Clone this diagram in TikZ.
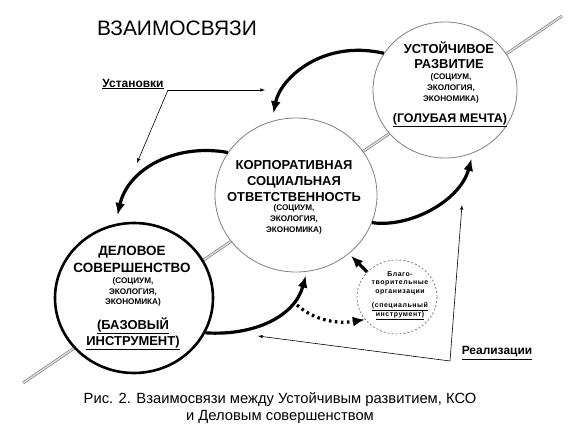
\documentclass[tikz,border=0pt]{standalone}
\usepackage{fontspec}
\setmainfont{Liberation Sans}
\usetikzlibrary{shapes.geometric,arrows.meta}
\begin{document}
\begin{tikzpicture}[>=latex,line join=bevel,
  flow/.style={black,line width=3.2bp,-{Latex[length=12bp,width=10bp]}},
  note/.style={black,line width=0.6bp,->},
  ring/.style={ellipse,draw=gray,line width=0.8bp,fill=white,inner sep=0pt},
  head/.style={font=\bfseries\fontsize{13}{16.5}\selectfont,align=center,inner sep=0pt},
  sub/.style={font=\bfseries\fontsize{8.2}{10.8}\selectfont,align=center,inner sep=0pt},
  tiny/.style={font=\bfseries\fontsize{7}{8.6}\selectfont\addfontfeatures{LetterSpace=8},align=center,inner sep=0pt},
  tag/.style={font=\bfseries\fontsize{12}{14}\selectfont,inner sep=0pt}]
\useasboundingbox (0bp,0bp) rectangle (580bp,431bp);
%%
\coordinate (axis_0) at (23bp,48bp);
\coordinate (axis_1) at (562bp,415bp);
\draw [gray,line width=0.7bp,double=gray!25,double distance=1.4bp] (axis_0) -- (axis_1);
%
\node (node_sd) at (445bp,341bp) [ring,minimum width=144bp,minimum height=136bp] {};
  \node (node_csr) at (296bp,236bp) [ring,minimum width=162bp,minimum height=154bp] {};
  \node (node_be) at (134bp,133bp) [ring,draw=black,line width=2.6bp,minimum width=158bp,minimum height=150bp] {};
  \node (node_char) at (397bp,134bp) [ring,dashed,dash pattern=on 2bp off 2bp,minimum width=80bp,minimum height=74bp] {};
%
\node (node_sd_head) at (449bp,375.5bp) [head,font=\bfseries\fontsize{13}{15}\selectfont] {УСТОЙЧИВОЕ\\РАЗВИТИЕ};
  \node (node_sd_sub) at (451bp,342.5bp) [sub] {(СОЦИУМ,\\ЭКОЛОГИЯ,\\ЭКОНОМИКА)};
  \node (node_sd_goal) at (450bp,311bp) [tag,font=\bfseries\fontsize{12.5}{14}\selectfont] {\underline{(ГОЛУБАЯ МЕЧТА)}};
  \node (node_csr_head) at (294bp,250bp) [head] {КОРПОРАТИВНАЯ\\СОЦИАЛЬНАЯ\\ОТВЕТСТВЕННОСТЬ};
  \node (node_csr_sub) at (294bp,211.5bp) [sub] {(СОЦИУМ,\\ЭКОЛОГИЯ,\\ЭКОНОМИКА)};
  \node (node_be_head) at (132bp,171.5bp) [head,font=\bfseries\fontsize{13.5}{17}\selectfont] {ДЕЛОВОЕ\\СОВЕРШЕНСТВО};
  \node (node_be_sub) at (133bp,139bp) [sub] {(СОЦИУМ,\\ЭКОЛОГИЯ,\\ЭКОНОМИКА)};
  \node (node_be_goal) at (133bp,97bp) [head,font=\bfseries\fontsize{13}{16}\selectfont] {\underline{(БАЗОВЫЙ}\\\underline{ИНСТРУМЕНТ)}};
  \node (node_char_head) at (400bp,147.7bp) [tiny] {Благо-\\творительные\\организации};
  \node (node_char_sub) at (400bp,120bp) [tiny] {\underline{(специальный}\\\underline{инструмент)}};
%
\draw [flow,shorten >=8bp] (node_sd.149) ..controls (322bp,392bp) and (280bp,352bp)  .. (node_csr.108);
  \draw [flow,shorten >=9bp] (node_csr.148) ..controls (175bp,288bp) and (128bp,262bp)  .. (node_be.104);
  \draw [flow,shorten >=4bp] (node_be.-26) ..controls (255bp,95bp) and (295bp,115bp)  .. (node_csr.-82);
  \draw [flow,shorten >=6bp] (node_csr.-20) ..controls (410bp,203bp) and (460bp,230bp)  .. (node_sd.-66);
  \draw [flow,shorten >=3bp] (node_char.140) -- (node_csr.-48);
  \coordinate (dot_0) at (297bp,126bp);
  \draw [flow,dash pattern=on 2.6bp off 3.4bp] (dot_0) ..controls (315bp,110bp) and (338bp,107bp)  .. (node_char.215);
%
\node (node_title) at (177bp,403bp) [inner sep=0pt,font=\fontsize{21}{24}\selectfont] {ВЗАИМОСВЯЗИ};
  \node (node_setup) at (133bp,347bp) [tag] {\underline{Установки}};
  \coordinate (setup_0) at (168bp,341bp);
  \coordinate (setup_1) at (265bp,341bp);
  \coordinate (setup_2) at (137bp,268bp);
  \draw [note] (setup_0) -- (setup_1);
  \draw [note] (setup_0) -- (setup_2);
  \node (node_impl) at (497bp,78bp) [tag] {\underline{Реализации}};
  \coordinate (impl_0) at (450bp,70bp);
  \coordinate (impl_1) at (462bp,226bp);
  \coordinate (impl_2) at (258bp,95bp);
  \draw [note] (impl_0) -- (impl_1);
  \draw [note] (impl_0) -- (impl_2);
%
\node (node_caption) at (280bp,22.5bp) [align=center,inner sep=0pt,font=\fontsize{14.8}{17}\selectfont] {Рис. 2. Взаимосвязи между Устойчивым развитием, КСО\\и Деловым совершенством};
%
\end{tikzpicture}
\end{document}
